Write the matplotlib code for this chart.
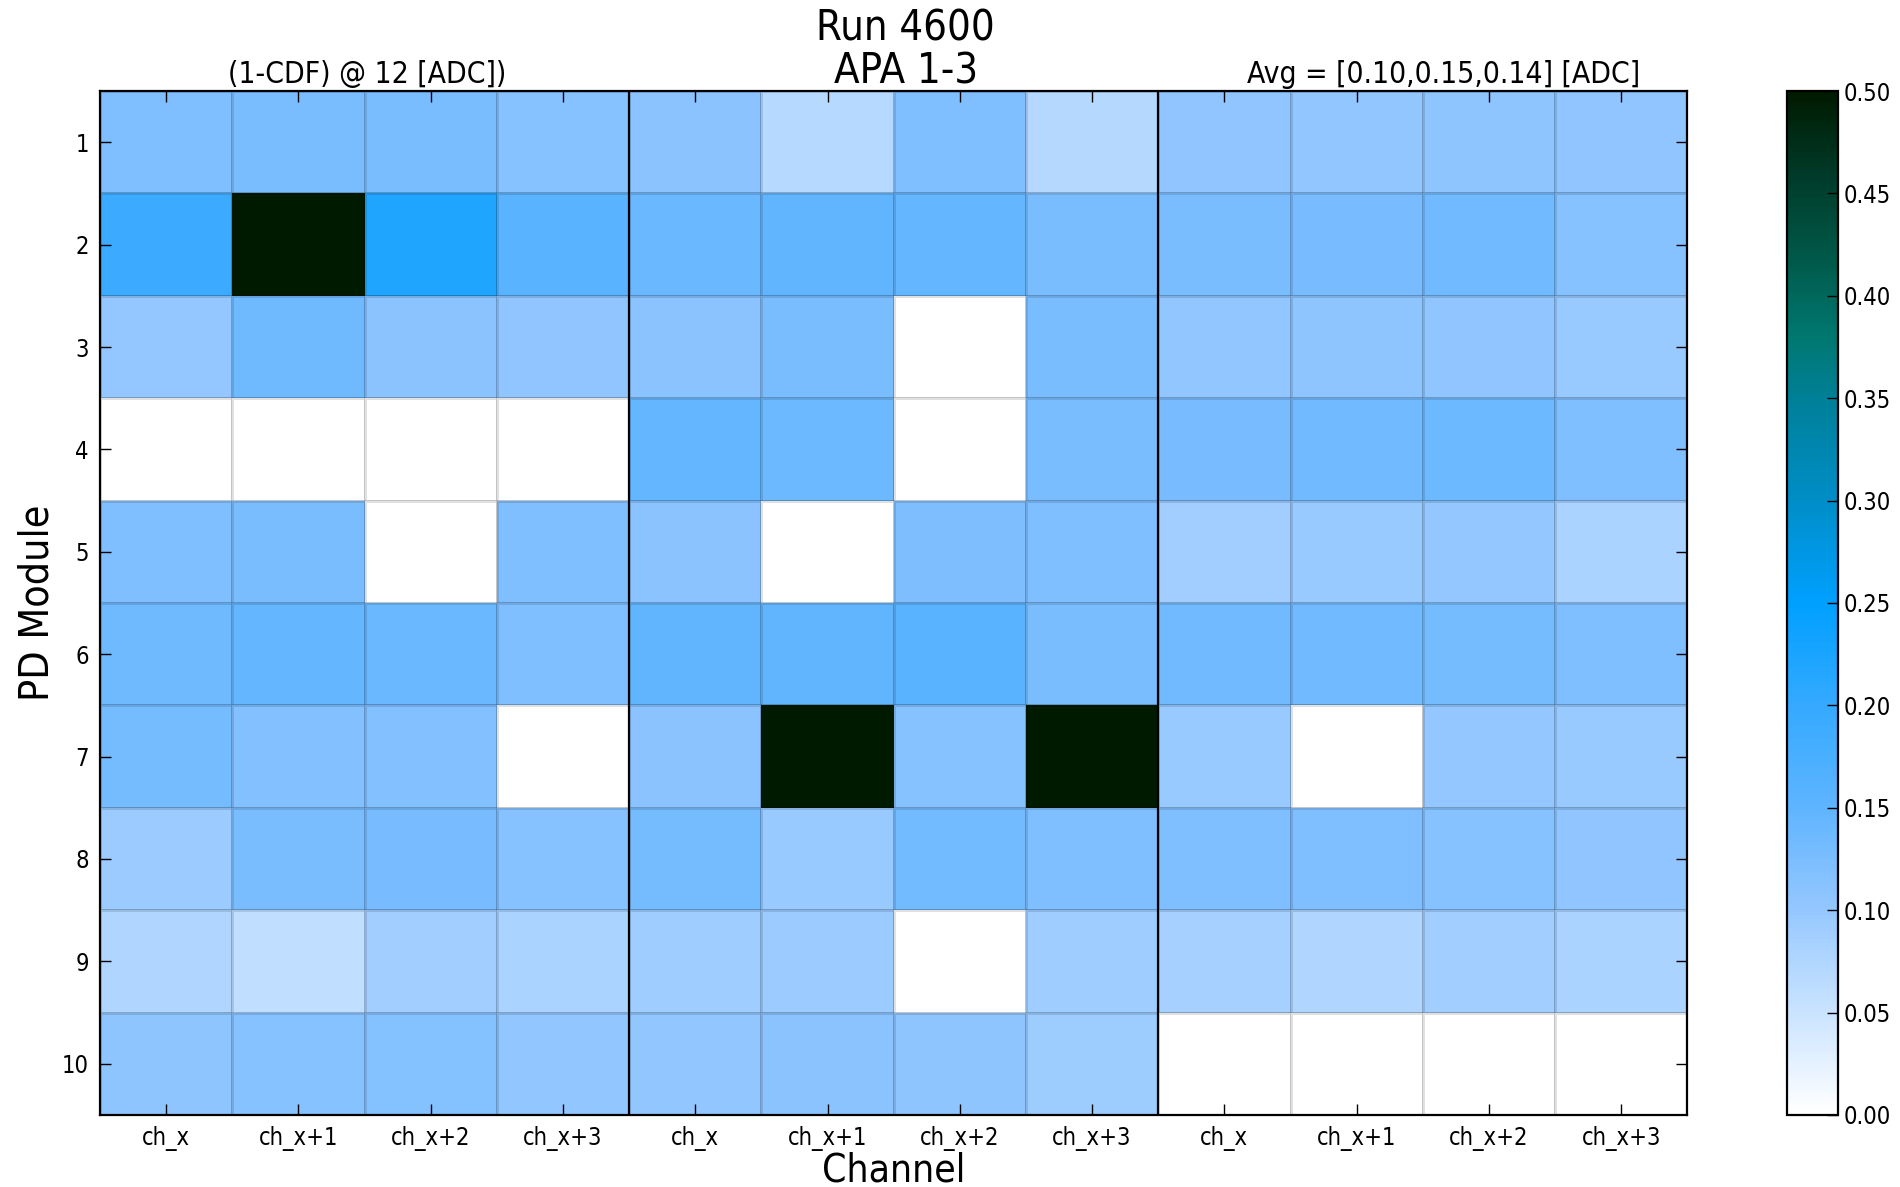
import numpy as np
import matplotlib
matplotlib.use("Agg")
import matplotlib.pyplot as plt
from matplotlib import font_manager
from matplotlib.colors import LinearSegmentedColormap

# ---------------- data ----------------
modules = [1, 2, 3, 4, 5, 6, 7, 8, 9, 10]
channel_labels = ["ch_x", "ch_x+1", "ch_x+2", "ch_x+3"] * 3
title_main = "Run 4600\nAPA 1-3"
left_title = "(1-CDF) @ 12 [ADC])"
right_title = "Avg = [0.10,0.15,0.14] [ADC]"

apa1 = [
    [0.120, 0.125, 0.125, 0.115],
    [0.190, 0.500, 0.220, 0.155],
    [0.100, 0.135, 0.110, 0.105],
    [0.000, 0.000, 0.000, 0.000],
    [0.120, 0.125, 0.000, 0.121],
    [0.135, 0.145, 0.140, 0.120],
    [0.130, 0.118, 0.118, 0.000],
    [0.095, 0.126, 0.128, 0.114],
    [0.075, 0.060, 0.088, 0.082],
    [0.107, 0.115, 0.117, 0.103],
]
apa2 = [
    [0.110, 0.070, 0.120, 0.072],
    [0.140, 0.148, 0.145, 0.125],
    [0.110, 0.125, 0.000, 0.125],
    [0.145, 0.137, 0.000, 0.126],
    [0.110, 0.000, 0.123, 0.121],
    [0.148, 0.148, 0.155, 0.125],
    [0.110, 0.500, 0.114, 0.500],
    [0.130, 0.097, 0.132, 0.120],
    [0.090, 0.094, 0.000, 0.090],
    [0.103, 0.110, 0.107, 0.093],
]
apa3 = [
    [0.105, 0.103, 0.107, 0.104],
    [0.125, 0.128, 0.134, 0.115],
    [0.103, 0.107, 0.104, 0.097],
    [0.128, 0.134, 0.138, 0.121],
    [0.088, 0.097, 0.100, 0.082],
    [0.134, 0.134, 0.130, 0.120],
    [0.097, 0.000, 0.100, 0.097],
    [0.120, 0.121, 0.115, 0.104],
    [0.084, 0.076, 0.088, 0.082],
    [0.000, 0.000, 0.000, 0.000],
]

# ---------------- font ----------------
def pick_font():
    names = {f.name: f for f in font_manager.fontManager.ttflist}
    for f in font_manager.fontManager.ttflist:
        if f.name == "DejaVu Sans" and "Condensed" in f.fname and "Bold" not in f.fname and "Oblique" not in f.fname:
            return f.fname
    for cand in ["Liberation Sans Narrow", "Roboto Condensed", "Open Sans Condensed"]:
        if cand in names:
            return names[cand].fname
    return None

fpath = pick_font()
if fpath:
    font_manager.fontManager.addfont(fpath)
    fam = font_manager.FontProperties(fname=fpath).get_name()
    plt.rcParams["font.family"] = [fam, "DejaVu Sans"]
    if "DejaVu" in fpath:
        plt.rcParams["font.stretch"] = "condensed"

# ---------------- colormap ----------------
anchors = [
    (0.00, "#ffffff"),
    (0.05, "#c9e3ff"),
    (0.075, "#b0d6ff"),
    (0.10, "#94c7ff"),
    (0.12, "#80bfff"),
    (0.15, "#5eb4ff"),
    (0.20, "#34a9ff"),
    (0.25, "#00a0ff"),
    (0.30, "#008ec8"),
    (0.35, "#008098"),
    (0.38, "#007870"),
    (0.42, "#005848"),
    (0.46, "#003a28"),
    (0.50, "#001a00"),
]
cmap = LinearSegmentedColormap.from_list("apa", [(v / 0.5, c) for v, c in anchors])

data = np.hstack([np.array(apa1), np.array(apa2), np.array(apa3)])

fig = plt.figure(figsize=(19, 11.87), dpi=100)
ax = fig.add_axes([0.0526, 0.0607, 0.8355, 0.8626])
cax = fig.add_axes([0.9405, 0.0607, 0.0268, 0.8626])

x_edges = np.arange(data.shape[1] + 1)
y_edges = np.arange(data.shape[0] + 1)
mesh = ax.pcolormesh(x_edges, y_edges, data, cmap=cmap, vmin=0, vmax=0.5,
                     edgecolors=(0, 0, 0, 0.12), linewidth=1.0)
ax.set_xlim(0, data.shape[1])
ax.set_ylim(data.shape[0], 0)

for xs in (4, 8):
    ax.axvline(xs, color="black", lw=1.6)

ax.set_xticks(np.arange(data.shape[1]) + 0.5)
ax.set_xticklabels(channel_labels, fontsize=17)
ax.set_yticks(np.arange(data.shape[0]) + 0.5)
ax.set_yticklabels([str(m) for m in modules], fontsize=17)
ax.tick_params(direction="in", length=8, width=1, top=True, right=True, pad=8)
for s in ax.spines.values():
    s.set_linewidth(1.6)

ax.set_xlabel("Channel", fontsize=28, labelpad=0)
ax.set_ylabel("PD Module", fontsize=29.5, labelpad=3)

ax.text(0.5076, 0.999, title_main, transform=ax.transAxes, ha="center", va="bottom",
        fontsize=30, linespacing=1.03)
ax.text(2.02, -0.02, left_title, ha="center", va="bottom", fontsize=21.5)
ax.text(10.16, -0.02, right_title, ha="center", va="bottom", fontsize=21.5)

cb = fig.colorbar(mesh, cax=cax)
ticks = np.arange(0, 0.501, 0.05)
cb.set_ticks(ticks)
cb.set_ticklabels([f"{t:.2f}" for t in ticks])
cb.ax.tick_params(direction="in", length=8, width=1, labelsize=17, pad=4)
cb.outline.set_linewidth(1.6)

fig.savefig("out.png", dpi=100)
